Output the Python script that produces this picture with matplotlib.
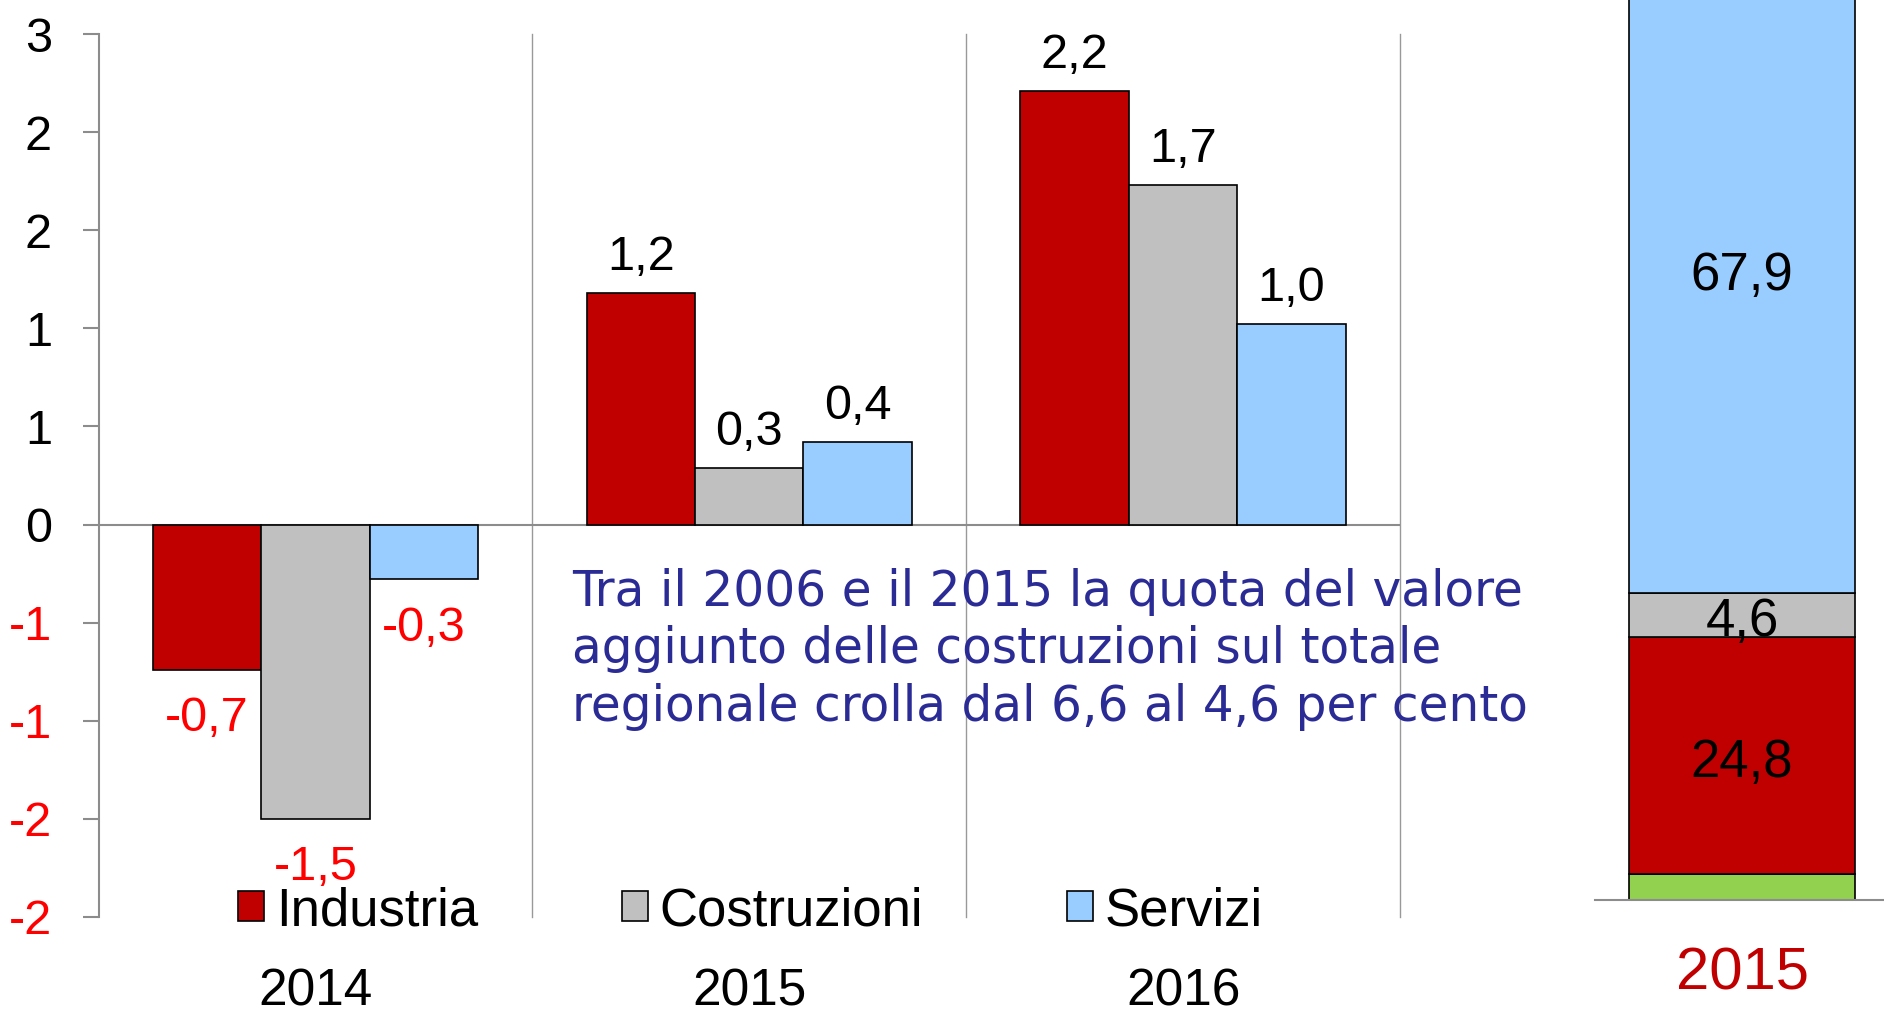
import numpy as np
import matplotlib.pyplot as plt

# Font: Arial-like for numbers and labels
plt.rcParams['font.family'] = ['Liberation Sans', 'DejaVu Sans']

# Variazione annua del valore aggiunto per settore (per cento)
anni = ['2014', '2015', '2016']
settori = ['Industria', 'Costruzioni', 'Servizi']
industria = [-0.74, 1.18, 2.21]
costruzioni = [-1.50, 0.29, 1.73]
servizi = [-0.28, 0.42, 1.02]
colori = ['#C00000', '#C0C0C0', '#99CCFF']

# Asse y: tacche ogni 0,5 con etichette arrotondate
yticks = [-2.0, -1.5, -1.0, -0.5, 0.0, 0.5, 1.0, 1.5, 2.0, 2.5]
ytick_labels = ['-2', '-2', '-1', '-1', '0', '1', '1', '2', '2', '3']

# Quote settoriali del valore aggiunto 2015 (barra in pila)
quote_settori = ['Agricoltura', 'Industria', 'Costruzioni', 'Servizi']
quote_2015 = [2.7, 24.8, 4.6, 67.9]
quote_colori = ['#92D050', '#C00000', '#C0C0C0', '#99CCFF']
quote_anno = '2015'

nota = ['Tra il 2006 e il 2015 la quota del valore',
        'aggiunto delle costruzioni sul totale',
        'regionale crolla dal 6,6 al 4,6 per cento']

W, H = 1884, 1016
grigio = '#8c8c8c'


def fmt(v):
    return ('%.1f' % v).replace('.', ',')


def run():
    fig = plt.figure(figsize=(W/100, H/100), dpi=100)

    # Left chart: grouped bars
    ax = fig.add_axes([98.5/W, 1-917/H, (1400-98.5)/W, (917-34)/H])
    x = np.arange(len(anni))
    w = 0.25
    for i, (vals, col) in enumerate(zip([industria, costruzioni, servizi], colori)):
        bars = ax.bar(x + (i-1)*w, vals, w, color=col, edgecolor='black',
                      linewidth=1.2, label=settori[i], zorder=3)
        for b, v in zip(bars, vals):
            xc = b.get_x() + b.get_width()/2
            if v >= 0:
                ax.annotate(fmt(v), (xc, v), xytext=(0, 16.5), textcoords='offset points',
                            ha='center', va='baseline', fontsize=35, color='black')
            else:
                ax.annotate(fmt(v), (xc, v), xytext=(0, -44), textcoords='offset points',
                            ha='center', va='baseline', fontsize=35, color='#FF0000')

    ax.set_xlim(-0.5, 2.5)
    ax.set_ylim(-2, 2.5)
    ax.axhline(0, color=grigio, lw=1.5, zorder=2)
    for xs in [0.5, 1.5, 2.5]:
        ax.axvline(xs, color='#999999', lw=1.0, clip_on=False, zorder=1)

    for s in ['top', 'right', 'bottom']:
        ax.spines[s].set_visible(False)
    ax.spines['left'].set_color(grigio)
    ax.spines['left'].set_linewidth(1.5)
    ax.set_xticks([])
    ax.set_yticks(yticks)
    ax.set_yticklabels(ytick_labels)
    ax.tick_params(axis='y', length=11.5, width=1.5, color=grigio, pad=22, labelsize=35)
    for lbl in ax.get_yticklabels():
        if lbl.get_text().startswith('-'):
            lbl.set_color('#FF0000')

    trans = ax.get_xaxis_transform()
    for xi, anno in zip(x, anni):
        ax.text(xi, (917-1006)/883, anno, ha='center', va='baseline',
                fontsize=37, transform=trans)

    ax.legend(ncol=3, loc='center left', bbox_to_anchor=(238/W, 1-911/H),
              bbox_transform=fig.transFigure, frameon=False, fontsize=38,
              handlelength=0.5, handleheight=0.5, handletextpad=0.22,
              columnspacing=2.72, borderpad=0, borderaxespad=0)

    # Note in blue
    for k, riga in enumerate(nota):
        fig.text(572/W, 1-(605.7+57.7*k)/H, riga, family='DejaVu Sans',
                 fontsize=35, color='#2B2B96', ha='left', va='baseline')

    # Right chart: stacked shares
    ax2 = fig.add_axes([1595/W, 1-900/H, 1-1595/W, 900/H])
    fondo = 0.0
    for k, (v, col) in enumerate(zip(quote_2015, quote_colori)):
        ax2.bar(0, v, 0.782, bottom=fondo, color=col, edgecolor='black', linewidth=1.2)
        if k > 0:
            ax2.annotate(fmt(v), (0, fondo + v/2), xytext=(0, -5), textcoords='offset points',
                         ha='center', va='center', fontsize=38)
        fondo += v
    ax2.set_xlim(-0.5087, 0.4913)
    ax2.set_ylim(0, 900/9.56)
    for s in ['top', 'right', 'left']:
        ax2.spines[s].set_visible(False)
    ax2.spines['bottom'].set_color(grigio)
    ax2.spines['bottom'].set_linewidth(1.5)
    ax2.set_xticks([])
    ax2.set_yticks([])
    fig.text(1742.5/W, 1-989/H, quote_anno, color='#C00000', fontsize=43,
             ha='center', va='baseline')

    fig.savefig('out.png', dpi=100)


if __name__ == "__main__":
    run()
